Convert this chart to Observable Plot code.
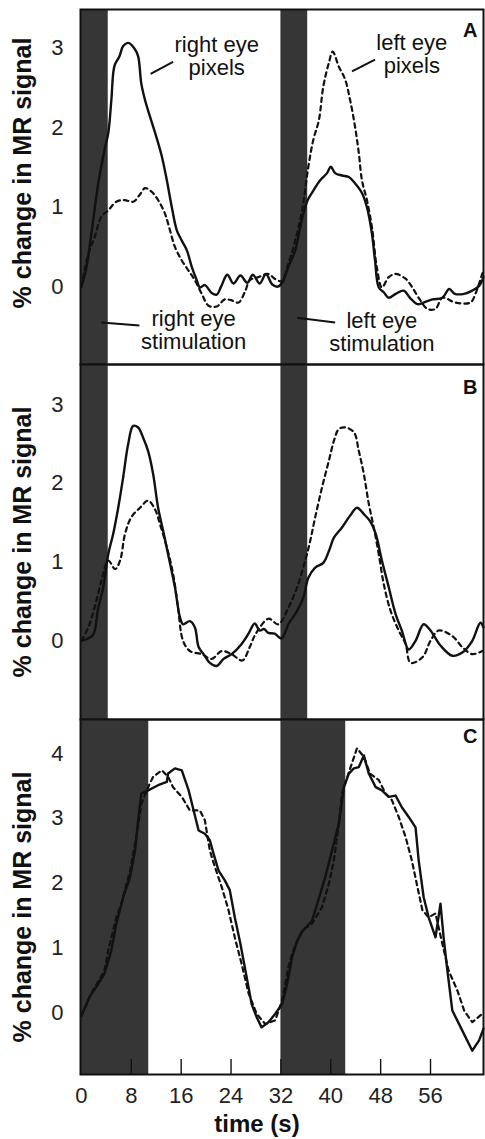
<!DOCTYPE html>
<html><head><meta charset="utf-8">
<script src="https://cdn.jsdelivr.net/npm/d3@7"></script>
<script src="https://cdn.jsdelivr.net/npm/@observablehq/plot@0.6"></script>
<style>
html,body{margin:0;padding:0;background:#fff}
#chart svg{display:block}
</style>
</head><body><div id="chart"></div>
<script>
// ---- data: [time (s), % change in MR signal] ----
const aSolid = [[0,0],[0.8,0.24],[1.6,0.67],[2.7,1.3],[3.7,1.72],[4.3,1.93],[4.8,2.35],[5.3,2.78],[6.1,2.9],[6.7,3.03],[7.5,3.07],[8.5,3.0],[9.1,2.9],[9.6,2.56],[10.2,2.35],[11,2.14],[12,1.89],[12.9,1.64],[13.7,1.34],[14.5,1.0],[15.3,0.71],[16.1,0.58],[16.9,0.46],[17.7,0.25],[18.5,0.08],[19,-0.01],[19.8,0.02],[20.9,-0.08],[21.7,-0.1],[22.4,0.0],[23.4,0.15],[24.4,0.04],[25.5,0.14],[26.6,0.05],[27.5,0.15],[28.6,0.04],[29.6,0.16],[30.6,0.03],[31.5,0.0],[32.2,0.05],[33.2,0.25],[34.3,0.46],[35.1,0.75],[35.6,0.92],[36.3,1.09],[37.2,1.21],[38.3,1.34],[39.4,1.43],[40,1.51],[40.7,1.43],[41.8,1.4],[42.9,1.38],[43.9,1.3],[45,1.18],[45.8,1.0],[46.6,0.67],[47.1,0.33],[47.7,-0.01],[48.5,-0.07],[49.3,-0.14],[50.4,-0.09],[51.7,-0.05],[52.7,-0.14],[53.9,-0.22],[54.9,-0.2],[56.3,-0.16],[57.9,-0.14],[59,-0.03],[59.9,-0.09],[61.4,-0.09],[62.7,-0.05],[63.8,0.01],[64.5,0.12]];
const aDashed = [[0,0],[1.1,0.41],[2.1,0.62],[3.2,0.88],[4.3,0.96],[5.6,1.07],[6.9,1.09],[8.3,1.07],[9.3,1.15],[10.2,1.24],[11.2,1.2],[12.3,1.09],[13.4,0.92],[14.2,0.71],[15,0.5],[16.1,0.33],[17.2,0.2],[18.2,0.08],[19.3,-0.09],[20.4,-0.24],[21.7,-0.25],[23,-0.16],[24,-0.17],[25.2,-0.2],[26.3,-0.05],[27,0.08],[28.4,0.12],[30,0.16],[31,0.1],[32.1,0.07],[33.2,0.29],[34.3,0.58],[35.4,0.96],[36.4,1.51],[37.2,1.85],[38.1,2.1],[38.8,2.52],[39.7,2.82],[40.3,2.96],[41.3,2.77],[42.3,2.61],[43.1,2.35],[43.9,2.01],[44.5,1.68],[45,1.34],[45.8,1.09],[46.6,0.75],[47.4,0.24],[48.2,-0.01],[49.3,0.12],[50.4,0.16],[52,0.1],[53,0],[54.1,-0.14],[55.5,-0.28],[56.8,-0.28],[57.9,-0.14],[60,-0.2],[62.4,-0.2],[63.2,-0.09],[64.3,0.16],[64.5,0.2]];
const bSolid = [[0,0],[0.8,0.02],[1.9,0.08],[2.7,0.42],[3.5,0.68],[4.3,1.1],[5.1,1.36],[5.9,1.69],[6.7,2.08],[7.5,2.5],[8.3,2.73],[9.1,2.71],[9.9,2.58],[10.7,2.41],[11.5,2.12],[12.3,1.69],[13.1,1.4],[13.9,1.1],[15,0.68],[15.8,0.3],[16.3,0.21],[17.4,0.25],[18.2,0.17],[18.8,-0.08],[19.6,-0.17],[20.6,-0.28],[21.7,-0.32],[22.8,-0.23],[24.1,-0.17],[25.7,-0.04],[26.8,0.09],[27.8,0.22],[28.6,0.13],[29.3,0.15],[30,0.1],[31,0.09],[32.1,0.03],[33.2,0.21],[34.6,0.38],[35.6,0.55],[36.4,0.8],[37.5,0.93],[38.8,0.99],[39.7,1.14],[40.5,1.31],[41.8,1.44],[43.1,1.59],[44.2,1.69],[45.3,1.61],[46.3,1.52],[47.2,1.36],[48.2,1.02],[49.3,0.68],[50.4,0.34],[51.4,0.13],[52.5,-0.11],[53.6,0],[54.9,0.21],[56,0.13],[57.6,-0.06],[59.5,-0.19],[61.1,-0.15],[62.7,0],[64,0.23],[64.5,0.17]];
const bDashed = [[0,0],[1.1,0.17],[2.1,0.42],[3.2,0.76],[4.3,1.02],[5.4,0.91],[6.2,1.02],[7,1.36],[8,1.57],[9.4,1.69],[10.7,1.78],[11.8,1.67],[12.6,1.48],[13.7,1.19],[14.7,0.85],[15.5,0.42],[16.3,0],[17.4,-0.13],[19.3,-0.17],[20.9,-0.23],[22.5,-0.13],[24.1,-0.17],[25.8,-0.25],[27,-0.08],[27.9,0.08],[30,0.28],[31.6,0.21],[33.2,0.42],[34.6,0.68],[35.9,1.02],[36.7,1.27],[37.5,1.57],[38.6,1.95],[39.7,2.29],[40.5,2.54],[41.3,2.69],[42.3,2.71],[43.7,2.65],[44.5,2.41],[45.3,2.12],[46.1,1.74],[46.9,1.44],[47.7,1.1],[48.5,0.72],[49.6,0.38],[50.9,0.13],[52,-0.04],[52.8,-0.28],[54.7,-0.21],[56,0],[57.3,0.13],[59.5,0.06],[61.1,-0.08],[62.7,-0.17],[64.3,-0.13]];
const cSolid = [[0,-0.05],[1.3,0.24],[2.7,0.44],[3.7,0.6],[4.8,0.96],[5.6,1.37],[6.7,1.78],[7.8,2.09],[8.6,2.5],[9.1,2.97],[9.6,3.38],[10.7,3.43],[12.3,3.51],[13.7,3.56],[13.9,3.69],[15,3.77],[16.1,3.74],[17.2,3.43],[18,3.12],[18.8,2.81],[19.8,2.76],[20.6,2.66],[21.2,2.45],[22,2.19],[23,2.04],[23.8,1.89],[24.6,1.47],[25.5,1.06],[26.5,0.55],[27.3,0.13],[28.1,-0.07],[28.9,-0.23],[30,-0.15],[31.1,-0.02],[32.2,0.13],[33,0.44],[33.8,0.85],[34.6,1.11],[35.6,1.27],[37,1.42],[38,1.73],[39.1,2.09],[40.2,2.5],[41.3,2.92],[42.1,3.48],[42.9,3.69],[43.7,3.77],[44.5,3.79],[45.3,3.97],[46.1,3.69],[47.2,3.48],[48.2,3.43],[49.3,3.33],[50.4,3.35],[51.4,3.17],[52.5,3.02],[53.6,2.86],[54.1,2.35],[54.9,1.78],[55.7,1.47],[56.8,1.16],[57.6,1.68],[58.1,1.16],[58.7,0.65],[59.5,0.03],[61.1,-0.28],[62.7,-0.59],[63.8,-0.43],[64.5,-0.25]];
const cDashed = [[0,-0.05],[1.5,0.28],[3.7,0.65],[4.3,0.96],[5.6,1.47],[6.4,1.68],[7.8,2.19],[8.8,2.71],[9.6,3.22],[10.7,3.48],[11.5,3.64],[12.9,3.74],[13.9,3.64],[14.7,3.48],[16.1,3.33],[17.4,3.12],[19,3.12],[19.8,2.97],[20.6,2.5],[21.4,2.25],[22.5,1.94],[23.6,1.58],[24.6,1.16],[25.7,0.75],[26.8,0.3],[28.1,-0.02],[29.5,-0.18],[31.1,-0.12],[32.2,0.19],[33.2,0.7],[33.8,0.91],[35.4,1.27],[37,1.37],[38.6,1.63],[39.7,1.99],[40.5,2.35],[41.3,2.92],[41.8,3.38],[42.9,3.71],[44.2,4.08],[45.3,3.95],[46.3,3.69],[47.7,3.59],[48.8,3.38],[49.8,3.28],[50.9,3.02],[52,2.71],[53,2.35],[53.9,1.94],[54.7,1.58],[55.7,1.47],[56.8,1.53],[57.9,1.06],[58.9,0.65],[60.3,0.34],[61.4,0.03],[62.7,-0.15],[64.3,-0.02],[64.5,0]];

// stimulation periods [start, end] (s)
const stimAB = [[0,4.3],[32,36.3]];
const stimC = [[0,10.8],[32,42.4]];

const xTicks = [0,8,16,24,32,40,48,56];
const xInnerTicks = [8,16,24,32,40,48,56];
const yTicksAB = [0,1,2,3];
const yTicksC = [0,1,2,3,4];
const panelLetters = ["A","B","C"];
const yLabel = "% change in MR signal";
const xLabel = "time (s)";

// annotation text (panel A) in data coordinates
const annoText = [
  {t:21.7, v:2.90, s:"right eye\npixels"},
  {t:53, v:2.93, s:"left eye\npixels"},
  {t:18, v:-0.55, s:"right eye\nstimulation"},
  {t:48.2, v:-0.57, s:"left eye\nstimulation"}
];
const annoLeaders = [[11.1,2.68,14.7,2.83],[43.4,2.71,47.1,2.86],[3.2,-0.45,9.3,-0.49],[34.6,-0.39,40.7,-0.45]];

const FONT = "Liberation Sans, Arial, Helvetica, sans-serif";
const INK = "#111";
const SHADE = "#363636";
const xDomain = [-0.15, 64.5];

function panel(o) {
  const marks = [
    Plot.rect(o.stim, {x1: d => d[0], x2: d => d[1], y1: () => o.yDomain[0], y2: () => o.yDomain[1], fill: SHADE}),
    Plot.line(o.dashed, {x: d => d[0], y: d => d[1], stroke: INK, strokeWidth: 2.2, strokeDasharray: "4.5,4", curve: o.curve}),
    Plot.line(o.solid, {x: d => d[0], y: d => d[1], stroke: INK, strokeWidth: 2.4, curve: o.curve}),
    Plot.frame({stroke: INK, strokeWidth: 2}),
    Plot.text([o.letter], {frameAnchor: "top-right", lineAnchor: "top", dx: -6, dy: o.letterDy, fontSize: 20, fontWeight: "bold", fill: INK}),
    Plot.text([yLabel], {frameAnchor: "left", textAnchor: "middle", rotate: -90, dx: -58, dy: o.labelDy, fontSize: 25, fontWeight: "bold", fill: INK})
  ];
  if (o.extra) marks.push(...o.extra);
  return Plot.plot({
    width: 485, height: o.height,
    marginLeft: 80, marginRight: 2, marginTop: o.marginTop, marginBottom: o.marginBottom,
    style: {fontFamily: FONT, fontSize: "22px", color: "#222", background: "#fff", overflow: "visible"},
    x: o.xAxis ? {domain: xDomain, ticks: xTicks, tickSize: 0, tickPadding: 13, tickFormat: d => String(d), label: null} : {domain: xDomain, axis: null},
    y: {domain: o.yDomain, ticks: o.yTicks, tickSize: 0, tickPadding: 17, tickFormat: d => String(d), label: null},
    marks
  });
}

const chart = document.getElementById("chart");

chart.appendChild(panel({
  solid: aSolid, dashed: aDashed, stim: stimAB, yDomain: [-0.98, 3.49], yTicks: yTicksAB,
  height: 364, marginTop: 9, marginBottom: 0, letter: panelLetters[0], letterDy: 13, labelDy: -14, curve: "catmull-rom",
  extra: [
    Plot.link(annoLeaders, {x1: d => d[0], y1: d => d[1], x2: d => d[2], y2: d => d[3], stroke: INK, strokeWidth: 2}),
    Plot.text(annoText, {x: "t", y: "v", text: "s", fontSize: 22, lineHeight: 1.06, fill: INK})
  ]
}));

chart.appendChild(panel({
  solid: bSolid, dashed: bDashed, stim: stimAB, yDomain: [-1.0, 3.51], yTicks: yTicksAB,
  height: 355, marginTop: 0, marginBottom: 0, letter: panelLetters[1], letterDy: 15, labelDy: 0, curve: "catmull-rom"
}));

chart.appendChild(panel({
  solid: cSolid, dashed: cDashed, stim: stimC, yDomain: [-0.958, 4.525], yTicks: yTicksC,
  height: 420, marginTop: 0, marginBottom: 65, letter: panelLetters[2], letterDy: 9, labelDy: 10, curve: "linear", xAxis: true,
  extra: [
    Plot.ruleX(xInnerTicks, {insetTop: 340, stroke: INK, strokeWidth: 1.4}),
    Plot.text([xLabel], {frameAnchor: "bottom", dx: -25, dy: 57, fontSize: 24, fontWeight: "bold", fill: INK})
  ]
}));
</script></body></html>
